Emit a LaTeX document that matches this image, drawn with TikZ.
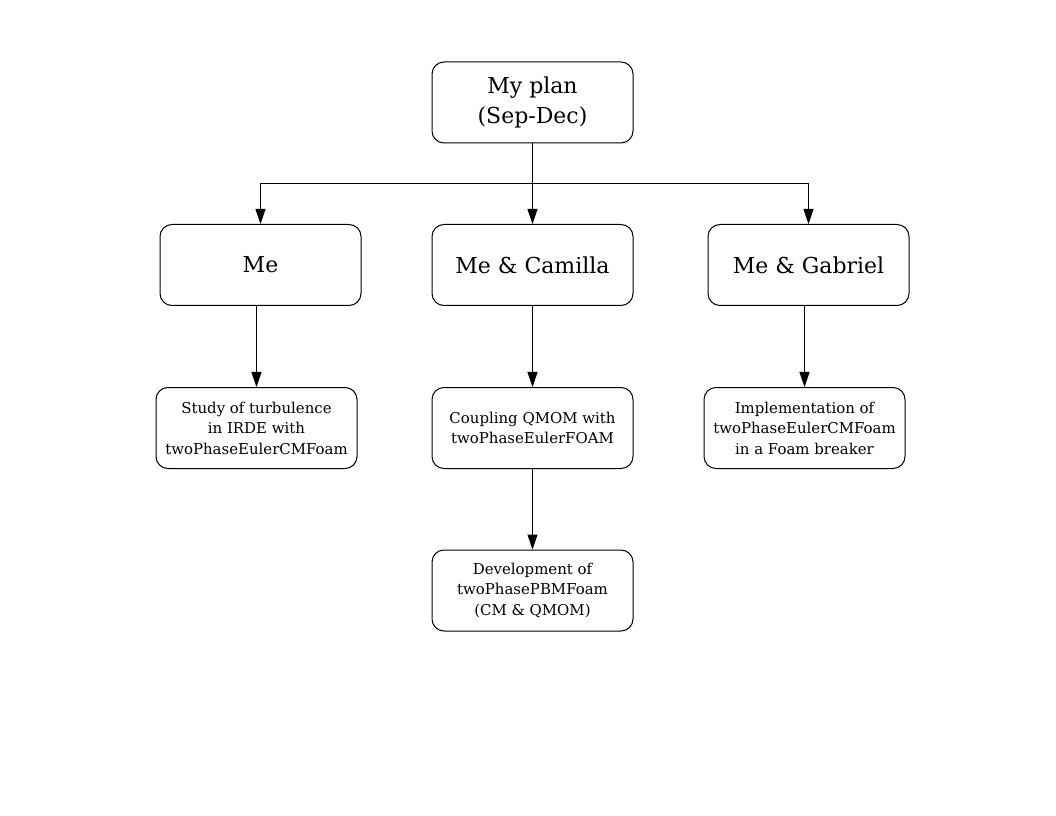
\documentclass[tikz,border=0pt]{standalone}
\usepackage{fontspec}
\setmainfont{DejaVu Serif}
\usetikzlibrary{arrows.meta}
\begin{document}
\begin{tikzpicture}[x=0.75pt,y=-0.75pt,
  box/.style={draw, line width=0.75pt, rounded corners=9pt, minimum width=150.75pt, minimum height=60.75pt, align=center, inner sep=0pt},
  bigtxt/.style={font=\fontsize{16.5}{22.5}\selectfont},
  smalltxt/.style={font=\fontsize{11.2}{15.4}\selectfont},
  arr/.style={line width=0.75pt, -{Triangle[length=11.25pt,width=7.5pt]}}]
\useasboundingbox (0,0) rectangle (1056,816);
\node[box,bigtxt] (top) at (532.5,102.5) {My plan\\(Sep-Dec)};
\node[box,bigtxt] (me) at (260.5,265) {Me};
\node[box,bigtxt] (cam) at (532.5,265) {Me \& Camilla};
\node[box,bigtxt] (gab) at (808.5,265) {Me \& Gabriel};
\node[box,smalltxt] (study) at (256.5,428) {Study of turbulence\\in IRDE with\\twoPhaseEulerCMFoam};
\node[box,smalltxt] (coup) at (532.5,428) {Coupling QMOM with\\twoPhaseEulerFOAM};
\node[box,smalltxt] (impl) at (804.5,428) {Implementation of\\twoPhaseEulerCMFoam\\in a Foam breaker};
\node[box,smalltxt] (dev) at (532.5,590.5) {Development of\\twoPhasePBMFoam\\(CM \& QMOM)};
\coordinate (j) at (532.5,184);
\draw[line width=0.75pt] (top.south) -- (j);
\draw[arr] (j) -| (me.north);
\draw[arr] (j) -| (gab.north);
\draw[arr] (j) -- (cam.north);
\draw[arr] (study.north |- me.south) -- (study.north);
\draw[arr] (cam.south) -- (coup.north);
\draw[arr] (impl.north |- gab.south) -- (impl.north);
\draw[arr] (coup.south) -- (dev.north);
\end{tikzpicture}
\end{document}
